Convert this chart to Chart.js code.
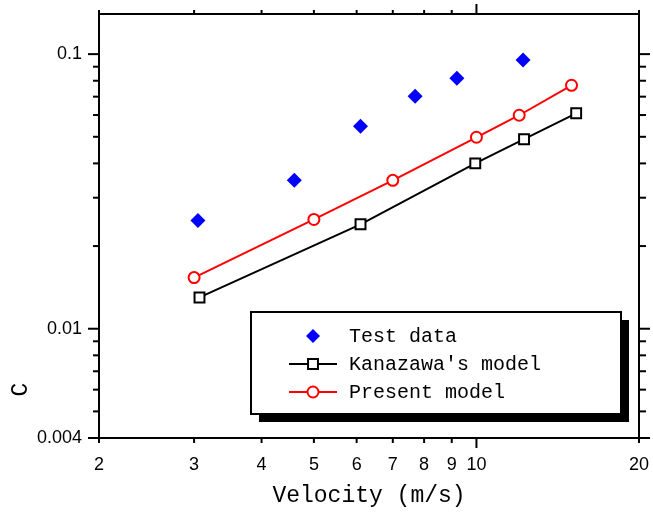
<!DOCTYPE html>
<html>
<head>
<meta charset="utf-8">
<script src="https://cdn.jsdelivr.net/npm/chart.js@4.4.1/dist/chart.umd.min.js"></script>
<style>
  body { margin: 0; background: #fff; }
</style>
</head>
<body>
<canvas id="chart" width="653" height="518"></canvas>
<script>
// values
const testX = [3.05, 4.6, 6.1, 7.7, 9.2, 12.2];
const testY = [0.0248, 0.0347, 0.0546, 0.0703, 0.0817, 0.0951];
const kanX = [3.07, 6.1, 9.95, 12.25, 15.3];
const kanY = [0.0130, 0.0240, 0.0400, 0.0490, 0.0609];
const presX = [3.0, 5.0, 7.0, 10.0, 12.0, 15.0];
const presY = [0.01535, 0.025, 0.0347, 0.0498, 0.0599, 0.077];

const xTicks = [2, 3, 4, 5, 6, 7, 8, 9, 10, 20];
const xMajor = [10];
const yTicks = [0.004, 0.005, 0.006, 0.007, 0.008, 0.009, 0.01,
  0.02, 0.03, 0.04, 0.05, 0.06, 0.07, 0.08, 0.09, 0.1];
const yMajor = [0.004, 0.01, 0.1];
const yLabels = [0.004, 0.01, 0.1];

const names = ['Test data', "Kanazawa's model", 'Present model'];

function pts(xs, ys) {
  return xs.map((x, i) => ({ x: x, y: ys[i] }));
}

// tick marks drawn outward, long for majors and short for minors
const tickLens = { x: [10, 5], x2: [10, 4], y: [11, 6], y2: [11, 7] };
const tickMarks = {
  id: 'tickMarks',
  afterDraw(chart) {
    const ctx = chart.ctx;
    ctx.save();
    ctx.strokeStyle = '#000';
    ctx.lineWidth = 2;
    Object.keys(tickLens).forEach(id => {
      const s = chart.scales[id];
      s.ticks.forEach(t => {
        const p = s.getPixelForValue(t.value);
        const len = t.major ? tickLens[id][0] : tickLens[id][1];
        ctx.beginPath();
        if (s.position === 'bottom') { ctx.moveTo(p, s.top); ctx.lineTo(p, s.top + len); }
        if (s.position === 'top') { ctx.moveTo(p, s.bottom); ctx.lineTo(p, s.bottom - len); }
        if (s.position === 'left') { ctx.moveTo(s.right, p); ctx.lineTo(s.right - len, p); }
        if (s.position === 'right') { ctx.moveTo(s.left, p); ctx.lineTo(s.left + len, p); }
        ctx.stroke();
      });
    });
    ctx.restore();
  }
};

// boxed legend with a drop shadow inside the plot
const boxLegend = {
  id: 'boxLegend',
  afterDraw(chart) {
    const ctx = chart.ctx;
    const ca = chart.chartArea;
    const w = 370, h = 102;
    const x0 = ca.right - 18 - w, y0 = ca.bottom - 24 - h;
    ctx.save();
    ctx.fillStyle = '#000';
    ctx.fillRect(x0 + 8, y0 + 8, w, h);
    ctx.fillStyle = '#fff';
    ctx.fillRect(x0, y0, w, h);
    ctx.strokeStyle = '#000';
    ctx.lineWidth = 2;
    ctx.strokeRect(x0, y0, w, h);

    const rows = [y0 + 24, y0 + 52, y0 + 80];
    const mx = x0 + 62;
    ctx.font = '20px "Liberation Mono"';
    ctx.textBaseline = 'middle';
    ctx.textAlign = 'left';
    chart.data.datasets.forEach((ds, i) => {
      const y = rows[i];
      if (ds.showLine) {
        ctx.strokeStyle = ds.borderColor;
        ctx.lineWidth = 2;
        ctx.beginPath();
        ctx.moveTo(mx - 24, y);
        ctx.lineTo(mx + 24, y);
        ctx.stroke();
      }
      ctx.lineWidth = 2;
      ctx.strokeStyle = ds.pointBorderColor;
      ctx.fillStyle = ds.pointBackgroundColor;
      ctx.beginPath();
      if (ds.pointStyle === 'rectRot') {
        const r = 7;
        ctx.moveTo(mx, y - r); ctx.lineTo(mx + r, y); ctx.lineTo(mx, y + r); ctx.lineTo(mx - r, y);
        ctx.closePath();
        ctx.fill();
      } else if (ds.pointStyle === 'rect') {
        const a = ds.pointRadius * Math.SQRT1_2;
        ctx.rect(mx - a, y - a, 2 * a, 2 * a);
        ctx.fill(); ctx.stroke();
      } else {
        ctx.arc(mx, y, ds.pointRadius, 0, Math.PI * 2);
        ctx.fill(); ctx.stroke();
      }
      ctx.fillStyle = '#000';
      ctx.fillText(ds.label, x0 + 98, y + 1);
    });
    ctx.restore();
  }
};

const hidden = 'rgba(0,0,0,0)';

function logAxis(pos, min, max, tickVals, majors, size, extra) {
  const horiz = pos === 'top' || pos === 'bottom';
  return Object.assign({
    type: 'logarithmic',
    position: pos,
    min: min,
    max: max,
    afterBuildTicks: s => {
      s.ticks = tickVals.map(v => ({ value: v, major: majors.includes(v) }));
    },
    afterFit: s => {
      if (horiz) s.height = size; else s.width = size;
      s.paddingLeft = 0; s.paddingRight = 0;
      s.paddingTop = 0; s.paddingBottom = 0;
    },
    grid: { drawOnChartArea: false, drawTicks: true, tickColor: hidden },
    border: { display: true, color: '#000', width: 2 }
  }, extra);
}

new Chart(document.getElementById('chart'), {
  type: 'scatter',
  data: {
    datasets: [{
      label: names[0],
      data: pts(testX, testY),
      showLine: false,
      pointStyle: 'rectRot',
      pointRadius: 7.5,
      pointBackgroundColor: '#0000ff',
      pointBorderColor: '#0000ff',
      pointBorderWidth: 0,
      borderColor: '#0000ff'
    }, {
      label: names[1],
      data: pts(kanX, kanY),
      showLine: true,
      borderColor: '#000',
      borderWidth: 2,
      pointStyle: 'rect',
      pointRadius: 7,
      pointBackgroundColor: '#fff',
      pointBorderColor: '#000',
      pointBorderWidth: 2
    }, {
      label: names[2],
      data: pts(presX, presY),
      showLine: true,
      borderColor: '#ff0000',
      borderWidth: 2,
      pointStyle: 'circle',
      pointRadius: 5.5,
      pointBackgroundColor: '#fff',
      pointBorderColor: '#ff0000',
      pointBorderWidth: 2
    }]
  },
  options: {
    responsive: false,
    animation: false,
    clip: false,
    layout: { padding: 0 },
    plugins: { legend: { display: false }, tooltip: { enabled: false } },
    scales: {
      x: logAxis('bottom', 2, 20, xTicks, xMajor, 80, {
        grid: { drawOnChartArea: false, drawTicks: true, tickLength: 5, tickColor: hidden },
        ticks: {
          autoSkip: false, maxRotation: 0, padding: 11, color: '#000',
          font: { family: 'Liberation Sans', size: 18 },
          callback: v => String(v)
        },
        title: {
          display: true, text: 'Velocity (m/s)', color: '#000',
          font: { family: 'Liberation Mono', size: 23 },
          padding: { top: 0, bottom: 8 }
        }
      }),
      x2: logAxis('top', 2, 20, xTicks, xMajor, 14, { ticks: { display: false } }),
      y: logAxis('left', 0.004, 0.14, yTicks, yMajor, 99, {
        grid: { drawOnChartArea: false, drawTicks: true, tickLength: 11, tickColor: hidden },
        ticks: {
          autoSkip: false, padding: 6, color: '#000',
          font: { family: 'Liberation Sans', size: 18 },
          callback: v => (yLabels.includes(v) ? String(v) : '')
        },
        title: {
          display: true, text: '   C', align: 'start', color: '#000',
          font: { family: 'Liberation Mono', size: 23 },
          padding: { top: 7, bottom: 0 }
        }
      }),
      y2: logAxis('right', 0.004, 0.14, yTicks, yMajor, 14, { ticks: { display: false } })
    }
  },
  plugins: [tickMarks, boxLegend]
});
</script>
</body>
</html>
